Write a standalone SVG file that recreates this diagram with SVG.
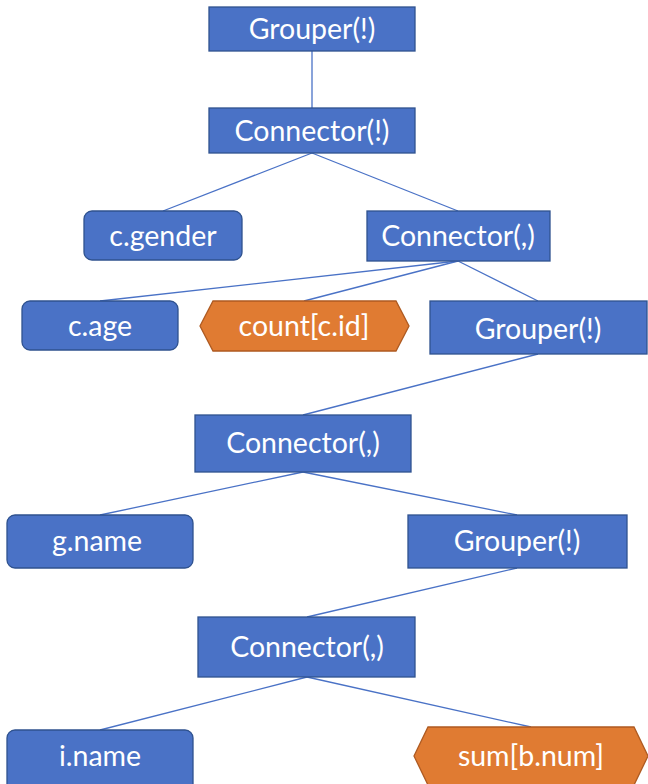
<svg xmlns="http://www.w3.org/2000/svg" width="648" height="784" viewBox="0 0 648 784">
  <style>
    .op { fill: #4A72C6; stroke: #2F528F; stroke-width: 1.3; }
    .leaf { fill: #4A72C6; stroke: #2F528F; stroke-width: 1.3; }
    .agg { fill: #E07B32; stroke: #AE5A21; stroke-width: 1.3; }
    .lbl { fill: #FFFFFF; font-family: Lato, "Open Sans", "Liberation Sans", sans-serif; font-size: 28.5px; text-anchor: middle; dominant-baseline: central; }
    .edge { stroke: #4A72C6; stroke-width: 1.3; fill: none; }
  </style>
  <rect width="648" height="784" fill="#FFFFFF"/>

  <g id="connectors">
    <line class="edge" x1="312" y1="51" x2="312" y2="108"/>
    <line class="edge" x1="312" y1="153" x2="163" y2="211"/>
    <line class="edge" x1="312" y1="153" x2="458" y2="211"/>
    <line class="edge" x1="458" y1="261" x2="100" y2="301"/>
    <line class="edge" x1="458" y1="261" x2="304" y2="301"/>
    <line class="edge" x1="458" y1="261" x2="538" y2="301"/>
    <line class="edge" x1="538" y1="354" x2="303" y2="415"/>
    <line class="edge" x1="303" y1="472" x2="100" y2="515"/>
    <line class="edge" x1="303" y1="472" x2="517" y2="515"/>
    <line class="edge" x1="517" y1="568" x2="307" y2="617"/>
    <line class="edge" x1="307" y1="677" x2="100" y2="730"/>
    <line class="edge" x1="307" y1="677" x2="531" y2="727"/>
  </g>

  <g id="grouper-root">
    <rect class="op" x="209" y="7" width="206" height="44"/>
    <text class="lbl" x="312" y="28">Grouper(!)</text>
  </g>
  <g id="connector-root">
    <rect class="op" x="209" y="108" width="206" height="45"/>
    <text class="lbl" x="312" y="130">Connector(!)</text>
  </g>
  <g id="c-gender">
    <rect class="leaf" x="84" y="211" width="158" height="49" rx="8"/>
    <text class="lbl" x="163" y="235">c.gender</text>
  </g>
  <g id="connector-1">
    <rect class="op" x="367" y="211" width="183" height="50"/>
    <text class="lbl" x="458" y="235">Connector(,)</text>
  </g>
  <g id="c-age">
    <rect class="leaf" x="22" y="301" width="156" height="49" rx="8"/>
    <text class="lbl" x="100" y="325">c.age</text>
  </g>
  <g id="count-c-id">
    <polygon class="agg" points="200,326 213,301 396,301 409,326 396,351 213,351"/>
    <text class="lbl" x="304" y="325">count[c.id]</text>
  </g>
  <g id="grouper-1">
    <rect class="op" x="430" y="301" width="217" height="53"/>
    <text class="lbl" x="538" y="328">Grouper(!)</text>
  </g>
  <g id="connector-2">
    <rect class="op" x="195" y="415" width="216" height="57"/>
    <text class="lbl" x="303" y="442">Connector(,)</text>
  </g>
  <g id="g-name">
    <rect class="leaf" x="7" y="515" width="186" height="53" rx="8"/>
    <text class="lbl" x="97" y="540">g.name</text>
  </g>
  <g id="grouper-2">
    <rect class="op" x="408" y="515" width="219" height="53"/>
    <text class="lbl" x="517" y="540">Grouper(!)</text>
  </g>
  <g id="connector-3">
    <rect class="op" x="198" y="617" width="217" height="60"/>
    <text class="lbl" x="307" y="646">Connector(,)</text>
  </g>
  <g id="i-name">
    <rect class="leaf" x="7" y="730" width="186" height="64" rx="8"/>
    <text class="lbl" x="100" y="755">i.name</text>
  </g>
  <g id="sum-b-num">
    <polygon class="agg" points="414,756 428,727 634,727 648,756 634,785 428,785"/>
    <text class="lbl" x="531" y="755">sum[b.num]</text>
  </g>
</svg>
